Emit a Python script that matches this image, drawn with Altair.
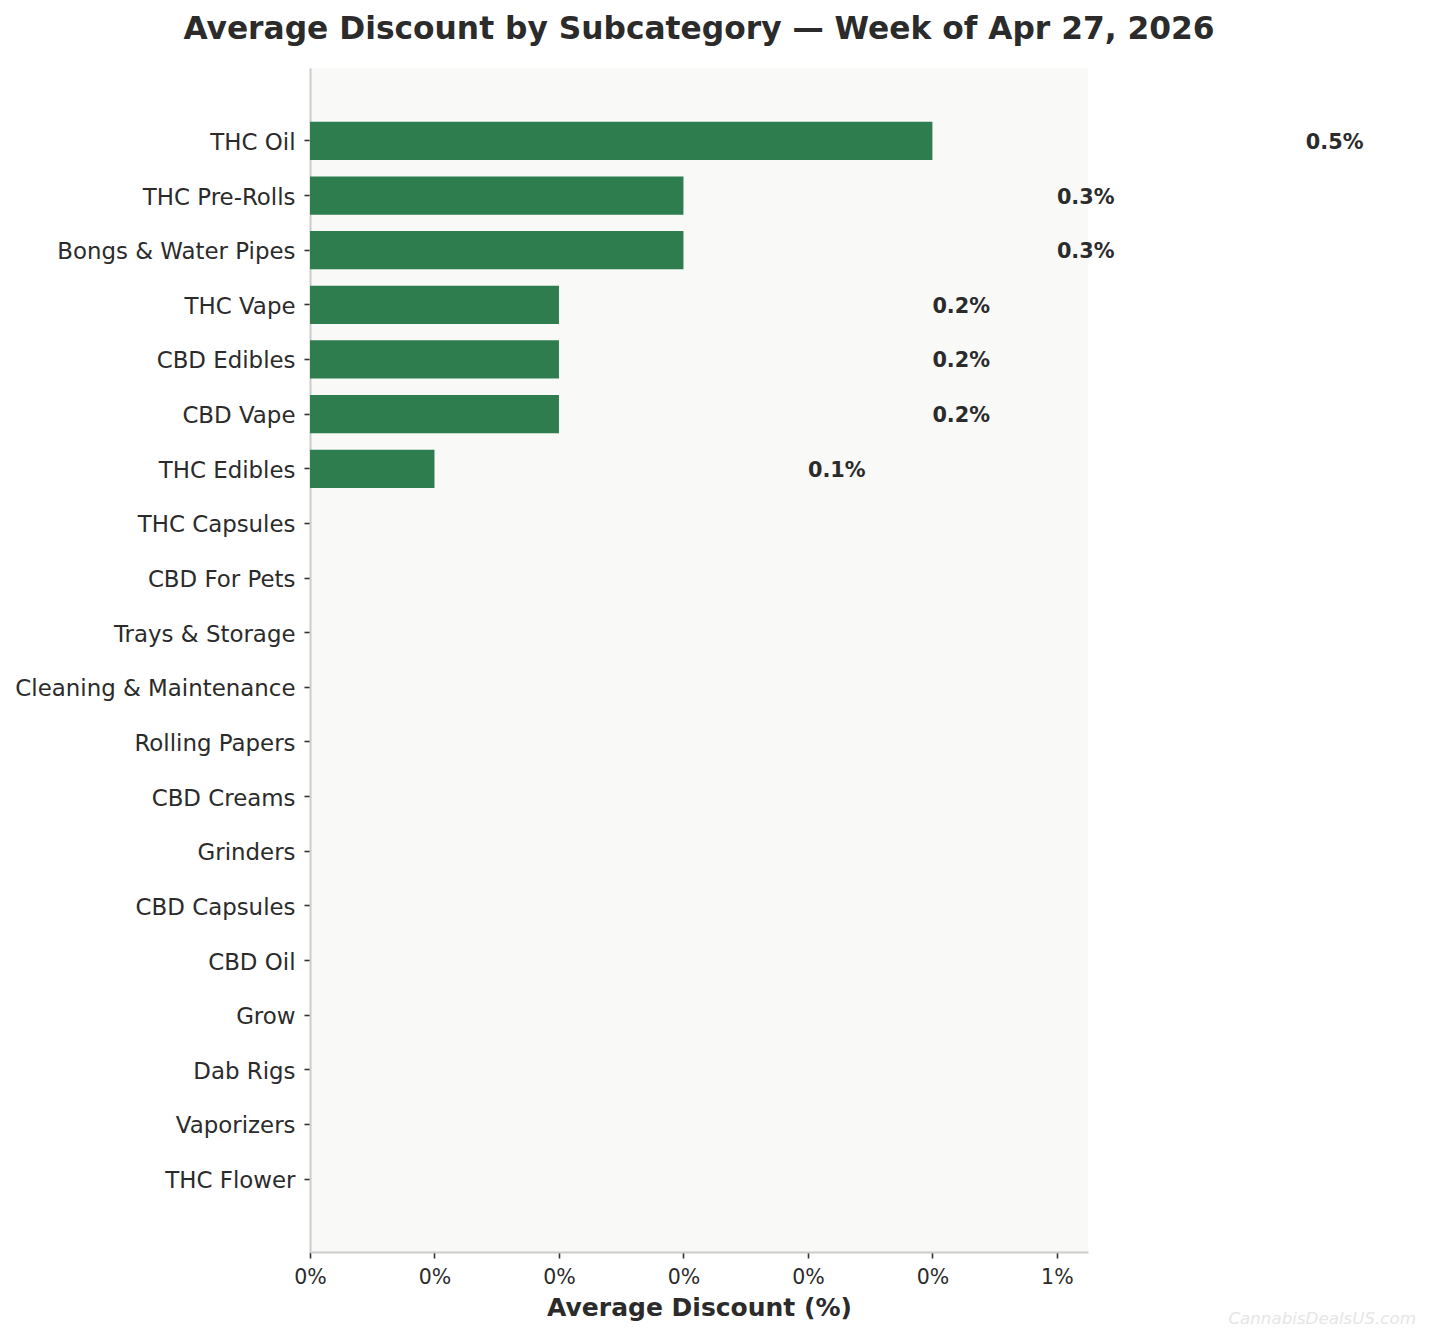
import altair as alt
import pandas as pd

# subcategories, top to bottom as drawn
categories = [
    "THC Oil", "THC Pre-Rolls", "Bongs & Water Pipes", "THC Vape", "CBD Edibles",
    "CBD Vape", "THC Edibles", "THC Capsules", "CBD For Pets", "Trays & Storage",
    "Cleaning & Maintenance", "Rolling Papers", "CBD Creams", "Grinders",
    "CBD Capsules", "CBD Oil", "Grow", "Dab Rigs", "Vaporizers", "THC Flower",
]
avg_discount = [0.5, 0.3, 0.3, 0.2, 0.2, 0.2, 0.1, 0, 0, 0, 0, 0, 0, 0, 0, 0, 0, 0, 0, 0]

tick_values = [0, 0.1, 0.2, 0.3, 0.4, 0.5, 0.6]
tick_labels = ["0%", "0%", "0%", "0%", "0%", "0%", "1%"]

TEXT = "#2b2b2b"
FONT = "DejaVu Sans"

df = pd.DataFrame({"Subcategory": categories, "Discount": avg_discount})
wm = pd.DataFrame({"t": ["CannabisDealsUS.com"]})

label_expr = "[" + ",".join("'%s'" % s for s in tick_labels) + "][round(datum.value * 10)]"

y_enc = alt.Y(
    "Subcategory:N",
    sort=categories,
    title=None,
    scale=alt.Scale(paddingInner=0.3, paddingOuter=0.985),
    axis=alt.Axis(
        labelFontSize=22.9, labelColor=TEXT, labelFont=FONT, labelPadding=9,
        labelLimit=0, labelOffset=2,
        tickColor="#333333", tickSize=6, tickWidth=1.6,
        domainColor="#cccccc", domainWidth=2,
    ),
)

bars = alt.Chart(df).mark_bar(color="#2e7d4f").encode(
    x=alt.X(
        "Discount:Q",
        title="Average Discount (%)",
        scale=alt.Scale(domain=[0, 0.625], nice=False, zero=True),
        axis=alt.Axis(
            values=tick_values, labelExpr=label_expr, grid=False, labelFlush=False,
            labelFontSize=20.5, labelColor=TEXT, labelFont=FONT, labelPadding=9,
            tickColor="#333333", tickSize=6, tickWidth=1.6,
            domainColor="#cccccc", domainWidth=2,
            titleFontSize=25, titleFontWeight="bold", titleColor=TEXT,
            titleFont=FONT, titlePadding=8,
        ),
    ),
    y=y_enc,
)

labels = alt.Chart(df).transform_filter(
    "datum.Discount > 0"
).transform_calculate(
    lx="datum.Discount + 0.3",
    txt="format(datum.Discount, '.1f') + '%'",
).mark_text(
    align="left", baseline="middle", fontSize=20.8, fontWeight="bold",
    color=TEXT, font=FONT, dy=2,
).encode(
    x="lx:Q",
    y=alt.Y("Subcategory:N", sort=categories),
    text="txt:N",
)

watermark = alt.Chart(wm).mark_text(
    align="right", baseline="middle", fontSize=16.7, fontStyle="italic",
    color="#e6e6e6", font=FONT,
).encode(
    x=alt.value(1106),
    y=alt.value(1251),
    text="t:N",
)

chart = alt.layer(bars, labels, watermark).properties(
    width=778,
    height=1184,
    autosize=alt.AutoSizeParams(type="none"),
    padding={"left": 302, "top": 60, "right": 330, "bottom": 76},
    title=alt.TitleParams(
        text="Average Discount by Subcategory \u2014 Week of Apr 27, 2026",
        fontSize=31.3, fontWeight="bold", color=TEXT, font=FONT,
        anchor="middle", offset=23,
    ),
    background="white",
).configure_view(
    fill="#f9f9f7",
    strokeWidth=0,
)

chart.save("out.html", embed_options={"renderer": "svg", "actions": False})
